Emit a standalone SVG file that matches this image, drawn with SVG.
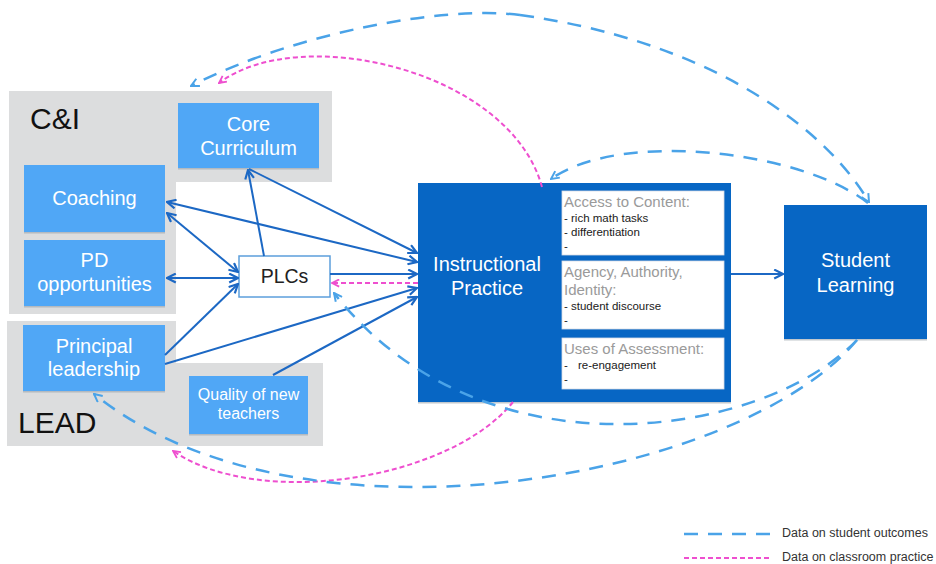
<svg xmlns="http://www.w3.org/2000/svg" width="936" height="564" viewBox="0 0 936 564">
  <style>
    .bg { fill: #dcddde; }
    .lb { fill: #50a7f6; }
    .shadow { fill: #9aa3ab; opacity: 0.6; }
    .dk { fill: #0766c4; }
    .panel { fill: #ffffff; stroke: #d6dde6; stroke-width: 0.8; }
    .wt { font-family: "Liberation Sans", Arial, sans-serif; fill: #ffffff; text-anchor: middle; }
    .grp { font-family: "Liberation Sans", Arial, sans-serif; fill: #111111; font-size: 30px; }
    .hd { font-family: "Liberation Sans", Arial, sans-serif; fill: #9a9a9a; font-size: 15px; }
    .it { font-family: "Liberation Sans", Arial, sans-serif; fill: #1a1a1a; font-size: 11.5px; }
    .lg { font-family: "Liberation Sans", Arial, sans-serif; fill: #333333; font-size: 12.5px; }
    .solid { fill: none; stroke: #1c68c4; stroke-width: 2; }
    .dashB { fill: none; stroke: #4aa3e8; stroke-width: 2.5; stroke-dasharray: 14 10; }
    .dashP { fill: none; stroke: #ee4fcf; stroke-width: 2; stroke-dasharray: 5 3; }
  </style>
  <defs>
    <marker id="ahSolid" viewBox="0 0 10 10" refX="9" refY="5" markerWidth="11" markerHeight="11" markerUnits="userSpaceOnUse" orient="auto-start-reverse">
      <path d="M1,1 L9,5 L1,9" fill="none" stroke="#1c68c4" stroke-width="2" stroke-linejoin="miter"/>
    </marker>
    <marker id="ahBlue" viewBox="0 0 10 10" refX="9" refY="5" markerWidth="10" markerHeight="10" markerUnits="userSpaceOnUse" orient="auto-start-reverse">
      <path d="M1,1 L9,5 L1,9" fill="none" stroke="#4aa3e8" stroke-width="2"/>
    </marker>
    <marker id="ahPink" viewBox="0 0 10 10" refX="9" refY="5" markerWidth="9" markerHeight="9" markerUnits="userSpaceOnUse" orient="auto-start-reverse">
      <path d="M1,1 L9,5 L1,9" fill="none" stroke="#ee4fcf" stroke-width="2"/>
    </marker>
  </defs>

  <rect width="936" height="564" fill="#ffffff"/>

  <!-- group backgrounds -->
  <g id="group-ci">
    <polygon class="bg" points="9,91 332,91 332,182 176,182 176,314 9,314"/>
    <text class="grp" x="30" y="129">C&amp;I</text>
  </g>
  <g id="group-lead">
    <polygon class="bg" points="7,321 176,321 176,363 323,363 323,446 7,446"/>
    <text class="grp" x="18" y="433">LEAD</text>
  </g>

  <!-- nodes -->
  <g id="core-curriculum">
    <rect class="shadow" x="178" y="104.5" width="141" height="65"/>
    <rect class="lb" x="178" y="103" width="141" height="65"/>
    <text class="wt" font-size="20" x="248.5" y="131">Core</text>
    <text class="wt" font-size="20" x="248.5" y="155">Curriculum</text>
  </g>
  <g id="coaching">
    <rect class="shadow" x="24" y="166.5" width="141" height="67"/>
    <rect class="lb" x="24" y="165" width="141" height="67"/>
    <text class="wt" font-size="20" x="94.5" y="205">Coaching</text>
  </g>
  <g id="pd-opportunities">
    <rect class="shadow" x="24" y="241.5" width="141" height="66"/>
    <rect class="lb" x="24" y="240" width="141" height="66"/>
    <text class="wt" font-size="20" x="94.5" y="267">PD</text>
    <text class="wt" font-size="20" x="94.5" y="291">opportunities</text>
  </g>
  <g id="principal-leadership">
    <rect class="shadow" x="23" y="326.5" width="142" height="66"/>
    <rect class="lb" x="23" y="325" width="142" height="66"/>
    <text class="wt" font-size="20" x="94" y="353">Principal</text>
    <text class="wt" font-size="20" x="94" y="376">leadership</text>
  </g>
  <g id="quality-new-teachers">
    <rect class="shadow" x="189" y="377.5" width="119" height="58"/>
    <rect class="lb" x="189" y="376" width="119" height="58"/>
    <text class="wt" font-size="16" x="248.5" y="400">Quality of new</text>
    <text class="wt" font-size="16" x="248.5" y="419">teachers</text>
  </g>
  <g id="plcs">
    <rect x="239" y="256" width="91" height="41" fill="#ffffff" stroke="#5c9fdc" stroke-width="1.5"/>
    <text x="284.5" y="283" font-family="Liberation Sans, Arial, sans-serif" font-size="19.5" fill="#222222" text-anchor="middle">PLCs</text>
  </g>
  <g id="instructional-practice">
    <rect class="shadow" x="418" y="184.5" width="313" height="219"/>
    <rect class="dk" x="418" y="183" width="313" height="219"/>
    <text class="wt" font-size="20" x="487" y="271">Instructional</text>
    <text class="wt" font-size="20" x="487" y="295">Practice</text>
    <rect class="panel" x="562" y="191" width="162" height="64"/>
    <text class="hd" x="564" y="207">Access to Content:</text>
    <text class="it" x="564" y="222">- rich math tasks</text>
    <text class="it" x="564" y="236">- differentiation</text>
    <text class="it" x="564" y="250">-</text>
    <rect class="panel" x="562" y="261" width="162" height="68"/>
    <text class="hd" x="564" y="277">Agency, Authority,</text>
    <text class="hd" x="564" y="295">Identity:</text>
    <text class="it" x="564" y="310">- student discourse</text>
    <text class="it" x="564" y="324">-</text>
    <rect class="panel" x="562" y="338" width="162" height="51"/>
    <text class="hd" x="564" y="354">Uses of Assessment:</text>
    <text class="it" x="564" y="369">-<tspan x="578">re-engagement</tspan></text>
    <text class="it" x="564" y="383">-</text>
  </g>
  <g id="student-learning">
    <rect class="shadow" x="784" y="206.5" width="143" height="134"/>
    <rect class="dk" x="784" y="205" width="143" height="134"/>
    <text class="wt" font-size="20" x="855.5" y="267">Student</text>
    <text class="wt" font-size="20" x="855.5" y="292">Learning</text>
  </g>

  <!-- connectors -->
  <g id="connectors">
    <!-- solid influence arrows -->
    <line class="solid" x1="249" y1="169" x2="417" y2="253" marker-end="url(#ahSolid)"/>
    <line class="solid" x1="264" y1="256" x2="248" y2="170" marker-end="url(#ahSolid)"/>
    <line class="solid" x1="167" y1="202" x2="417" y2="262" marker-start="url(#ahSolid)" marker-end="url(#ahSolid)"/>
    <line class="solid" x1="167" y1="213" x2="238" y2="272" marker-start="url(#ahSolid)" marker-end="url(#ahSolid)"/>
    <line class="solid" x1="167" y1="278" x2="238" y2="278" marker-start="url(#ahSolid)" marker-end="url(#ahSolid)"/>
    <line class="solid" x1="330" y1="274" x2="417" y2="274" marker-end="url(#ahSolid)"/>
    <line class="solid" x1="165" y1="355" x2="238" y2="284" marker-end="url(#ahSolid)"/>
    <line class="solid" x1="165" y1="364" x2="417" y2="288" marker-end="url(#ahSolid)"/>
    <line class="solid" x1="273" y1="375" x2="417" y2="297" marker-end="url(#ahSolid)"/>
    <line class="solid" x1="731" y1="274" x2="783" y2="274" marker-end="url(#ahSolid)"/>

    <!-- data on classroom practice -->
    <line class="dashP" x1="418" y1="283" x2="332" y2="283" marker-end="url(#ahPink)"/>
    <path class="dashP" d="M542,187 C510,70 300,22 219,83" marker-end="url(#ahPink)"/>
    <path class="dashP" d="M513,402 C450,480 260,510 173,451" marker-end="url(#ahPink)"/>

    <!-- data on student outcomes -->
    <path class="dashB" d="M520,15 C700,40 820,120 869,202" marker-end="url(#ahBlue)"/>
    <path class="dashB" d="M520,15 C440,5 290,35 191,86" marker-end="url(#ahBlue)"/>
    <path class="dashB" d="M868,203 C800,150 620,130 551,179" marker-end="url(#ahBlue)"/>
    <path class="dashB" d="M857,340 C760,440 480,480 334,293" marker-end="url(#ahBlue)"/>
    <path class="dashB" d="M857,340 C740,480 300,560 94,394" marker-end="url(#ahBlue)"/>
  </g>

  <!-- legend -->
  <g id="legend">
    <line class="dashB" x1="684" y1="534" x2="772" y2="534" stroke-dasharray="15 12"/>
    <text class="lg" x="782" y="537">Data on student outcomes</text>
    <line class="dashP" x1="684" y1="558" x2="772" y2="558"/>
    <text class="lg" x="782" y="561">Data on classroom practice</text>
  </g>
</svg>
